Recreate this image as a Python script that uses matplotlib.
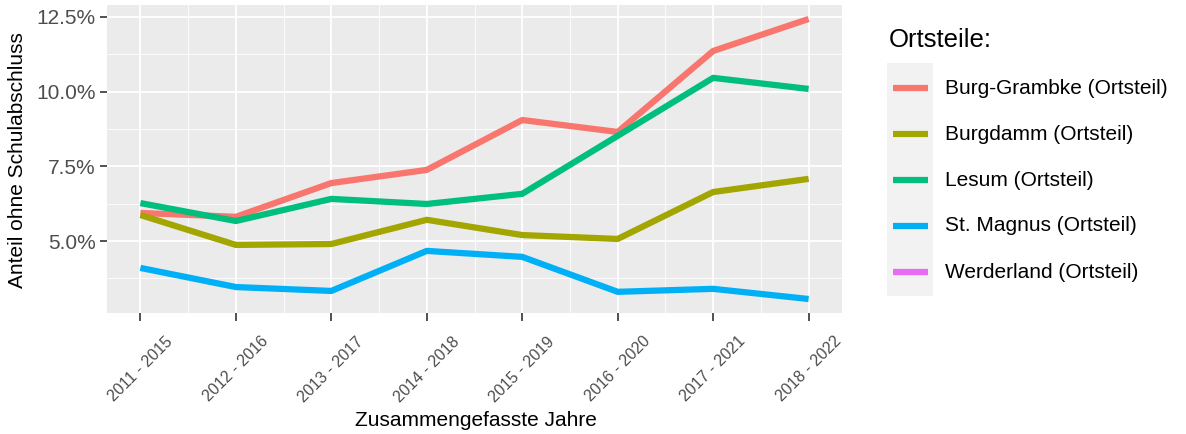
import numpy as np
import matplotlib.pyplot as plt
from matplotlib.lines import Line2D
from matplotlib.patches import Rectangle
from matplotlib.ticker import FuncFormatter, MultipleLocator

plt.rcParams['font.family'] = ['Liberation Sans', 'DejaVu Sans']

# Zeitraeume (5-Jahres-Fenster)
periods = ['2011 - 2015', '2012 - 2016', '2013 - 2017', '2014 - 2018',
           '2015 - 2019', '2016 - 2020', '2017 - 2021', '2018 - 2022']

# Anteil ohne Schulabschluss in %
burg_grambke = [5.94, 5.81, 6.94, 7.38, 9.05, 8.65, 11.36, 12.43]
burgdamm = [5.87, 4.87, 4.90, 5.71, 5.20, 5.07, 6.64, 7.08]
lesum = [6.27, 5.67, 6.41, 6.24, 6.58, 8.52, 10.46, 10.09]
st_magnus = [4.10, 3.46, 3.33, 4.67, 4.47, 3.30, 3.40, 3.06]
werderland = [np.nan] * 8  # keine Werte sichtbar

series_names = ['Burg-Grambke (Ortsteil)', 'Burgdamm (Ortsteil)', 'Lesum (Ortsteil)',
                'St. Magnus (Ortsteil)', 'Werderland (Ortsteil)']
series_values = [burg_grambke, burgdamm, lesum, st_magnus, werderland]
colors = ['#F8766D', '#A3A500', '#00BF7D', '#00B0F6', '#E76BF3']

W, H = 1186, 434
fig = plt.figure(figsize=(W / 100, H / 100), dpi=100)
ax = fig.add_axes([107 / W, 1 - 313 / H, (842 - 107) / W, (313 - 5) / H])
ax.set_facecolor('#EBEBEB')

x = np.arange(len(periods))
for name, vals, col in zip(series_names, series_values, colors):
    ax.plot(x, vals, color=col, linewidth=4.5, solid_capstyle='butt', label=name, zorder=3)

# ggplot-like expansion (5 %)
all_vals = np.concatenate([np.array(v, dtype=float) for v in series_values])
lo, hi = np.nanmin(all_vals), np.nanmax(all_vals)
pad = (hi - lo) * 0.05
ax.set_ylim(lo - pad, hi + pad)
ax.set_xlim(-0.35, len(periods) - 1 + 0.35)

ax.yaxis.set_major_locator(MultipleLocator(2.5))
ax.yaxis.set_minor_locator(MultipleLocator(1.25))
ax.yaxis.set_major_formatter(FuncFormatter(lambda v, p: f'{v:.1f}%'))
ax.set_xticks(x)
ax.set_xticks(x[:-1] + 0.5, minor=True)
ax.set_xticklabels(periods, rotation=45, ha='center', va='top',
                   fontsize=11.5, color='#4D4D4D')

ax.grid(which='major', color='white', linewidth=1.3, zorder=0)
ax.grid(which='minor', color='white', linewidth=0.6, zorder=0)
ax.set_axisbelow(True)
for s in ax.spines.values():
    s.set_visible(False)

ax.tick_params(axis='y', which='major', labelsize=15, labelcolor='#4D4D4D',
               color='#333333', length=5, width=1.2, pad=3)
ax.tick_params(axis='x', which='major', color='#333333', length=6, width=1.2, pad=9)
ax.tick_params(which='minor', length=0)

fig.text(18 / W, 1 - 160 / H, 'Anteil ohne Schulabschluss', rotation=90,
         ha='center', va='center', fontsize=15)
fig.text(476 / W, 1 - 420 / H, 'Zusammengefasste Jahre', ha='center', va='center', fontsize=15)

# Legende (ggplot-Stil)
fig.text(889 / W, 1 - 40 / H, 'Ortsteile:', ha='left', va='center', fontsize=18.5)
fig.add_artist(Rectangle((887 / W, 1 - 296 / H), (933 - 887) / W, (296 - 63) / H,
                         transform=fig.transFigure, facecolor='#F2F2F2', edgecolor='none'))
for i, (name, col) in enumerate(zip(series_names, colors)):
    yk = 1 - (88 + 46 * i) / H
    fig.add_artist(Line2D([893 / W, 928 / W], [yk, yk], transform=fig.transFigure,
                          color=col, linewidth=4.5, solid_capstyle='butt'))
    fig.text(945 / W, yk, name, ha='left', va='center', fontsize=15)

fig.savefig('out.png', dpi=100)
